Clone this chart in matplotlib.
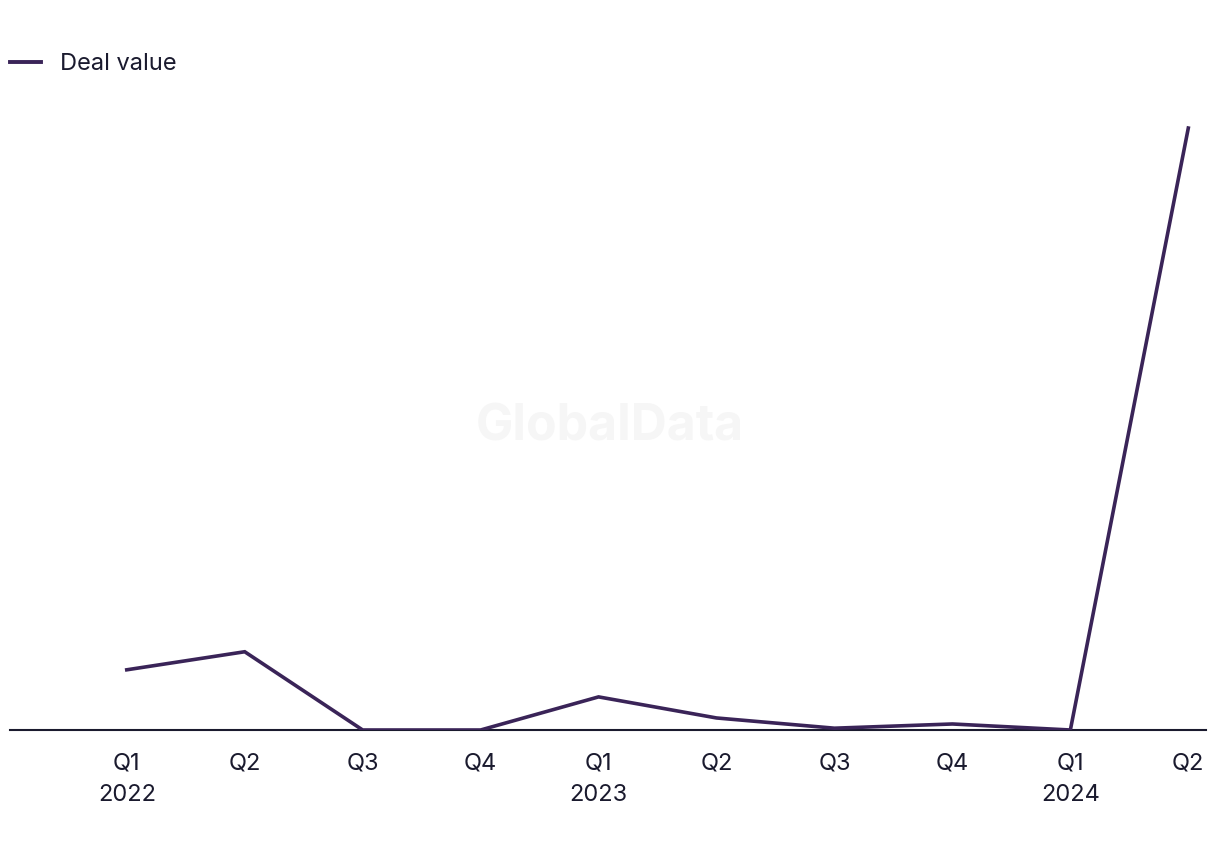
import matplotlib
matplotlib.use("Agg")
import matplotlib.pyplot as plt
from matplotlib.lines import Line2D

quarters = ["Q1", "Q2", "Q3", "Q4", "Q1", "Q2", "Q3", "Q4", "Q1", "Q2"]
years = ["2022", "", "", "", "2023", "", "", "", "2024", ""]
deal_value = [10.0, 13.0, 0.0, 0.0, 5.5, 2.0, 0.3, 1.0, 0.0, 100.0]

plt.rcParams['font.family'] = ['Inter', 'DejaVu Sans']

fig = plt.figure(figsize=(12.2, 8.5), dpi=100)
ax = fig.add_axes([10/1220, 1-730/850, (1206-10)/1220, (730-110)/850])

x = list(range(len(deal_value)))
ax.plot(x, deal_value, color="#3a2458", lw=2.6, solid_joinstyle="miter", zorder=3)

ax.set_xlim(-0.99, 9.15)
ax.set_ylim(0, 103)

labels = [q + ("\n" + y if y else "") for q, y in zip(quarters, years)]
ax.set_xticks(x)
ax.set_xticklabels(labels, fontsize=17, color="#1a1a2e", linespacing=1.55, va="top")
ax.tick_params(axis="x", length=0, pad=16)
ax.set_yticks([])
for s in ["top", "right", "left"]:
    ax.spines[s].set_visible(False)
ax.spines["bottom"].set_color("#1a1a2e")
ax.spines["bottom"].set_linewidth(1.5)

fig.text(610/1220, 1-427/850, "GlobalData", fontsize=36, fontweight="bold",
         color="#f6f6f6", ha="center", va="center", zorder=0)

handle = Line2D([0], [0], color="#3a2458", lw=2.8)
fig.legend([handle], ["Deal value"], loc="center left",
           bbox_to_anchor=(10/1220, 1-64/850), frameon=False, fontsize=17,
           handlelength=1.3, handletextpad=0.8, borderaxespad=0, borderpad=0,
           labelcolor="#1a1a2e")

fig.savefig("out.png", dpi=100, facecolor="white")
